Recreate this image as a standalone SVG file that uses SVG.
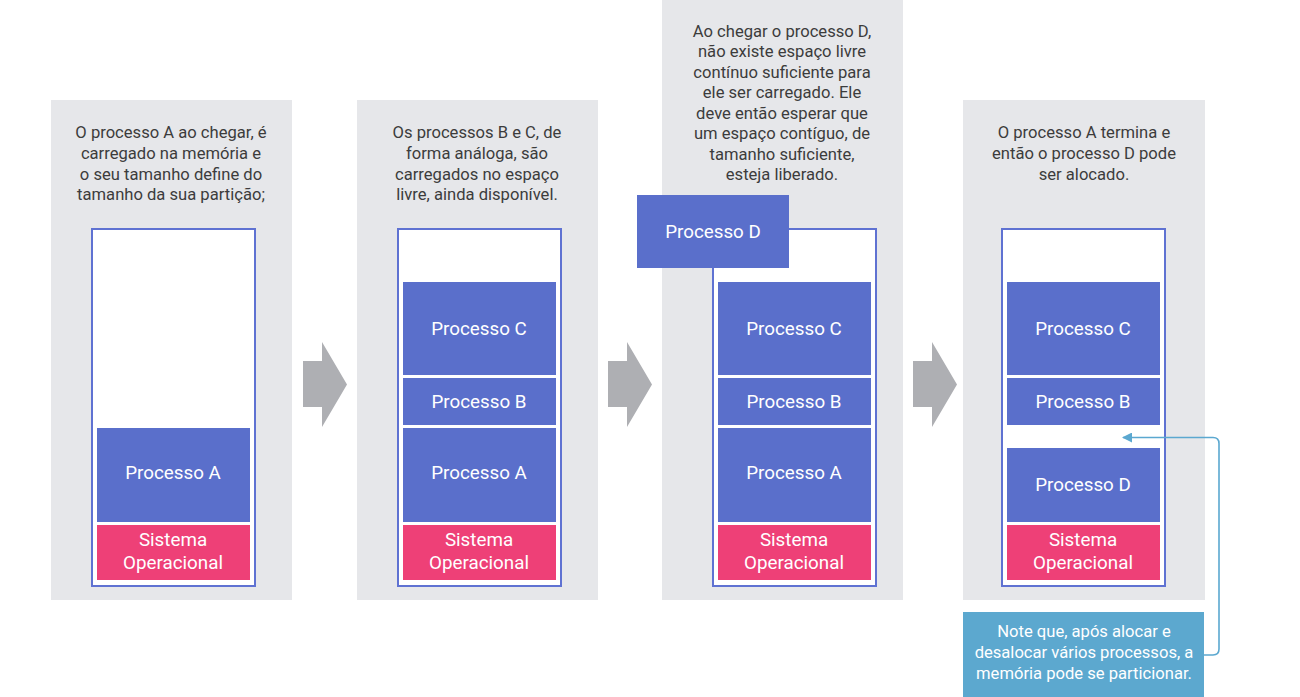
<svg xmlns="http://www.w3.org/2000/svg" width="1300" height="697" viewBox="0 0 1300 697">
<defs>
<style>
.panel{fill:#e6e7ea}
.mem{fill:#fff;stroke:#5f72d2;stroke-width:2}
.blk{fill:#5a6fcb}
.so{fill:#ee4077}
.desc{font-family:Roboto,"Liberation Sans",sans-serif;font-size:16.6px;fill:#3c3c3c;text-anchor:middle}
.lbl{font-family:Roboto,"Liberation Sans",sans-serif;font-size:18.8px;fill:#fff;text-anchor:middle}
.note{font-family:Roboto,"Liberation Sans",sans-serif;font-size:16.6px;fill:#fff;text-anchor:middle}
.chev{fill:#aeafb3}
</style>
<marker id="ah" viewBox="0 0 10 10" refX="9" refY="5" markerWidth="10" markerHeight="10" markerUnits="userSpaceOnUse" orient="auto">
<path d="M0,0 L10,5 L0,10 z" fill="#5ba8d0"/>
</marker>
</defs>

<g id="panel1">
<rect class="panel" x="51" y="100" width="241" height="500"/>
<text class="desc" x="171" y="138">O processo A ao chegar, é</text>
<text class="desc" x="171" y="159">carregado na memória e</text>
<text class="desc" x="171" y="180">o seu tamanho define do</text>
<text class="desc" x="171" y="200">tamanho da sua partição;</text>
<rect class="mem" x="92" y="229" width="163" height="357"/>
<rect class="blk" x="97" y="428" width="153" height="94"/>
<text class="lbl" x="173" y="479">Processo A</text>
<rect class="so" x="97" y="525" width="153" height="55"/>
<text class="lbl" x="173" y="546">Sistema</text>
<text class="lbl" x="173" y="569">Operacional</text>
</g>

<g id="panel2">
<rect class="panel" x="357" y="100" width="241" height="500"/>
<text class="desc" x="477" y="138">Os processos B e C, de</text>
<text class="desc" x="477" y="159">forma análoga, são</text>
<text class="desc" x="477" y="180">carregados no espaço</text>
<text class="desc" x="477" y="200">livre, ainda disponível.</text>
<rect class="mem" x="398" y="229" width="163" height="357"/>
<rect class="blk" x="403" y="282" width="153" height="93"/>
<text class="lbl" x="479" y="335">Processo C</text>
<rect class="blk" x="403" y="378" width="153" height="47"/>
<text class="lbl" x="479" y="408">Processo B</text>
<rect class="blk" x="403" y="428" width="153" height="94"/>
<text class="lbl" x="479" y="479">Processo A</text>
<rect class="so" x="403" y="525" width="153" height="55"/>
<text class="lbl" x="479" y="546">Sistema</text>
<text class="lbl" x="479" y="569">Operacional</text>
</g>

<g id="panel3">
<rect class="panel" x="662" y="0" width="241" height="600"/>
<text class="desc" x="782" y="37">Ao chegar o processo D,</text>
<text class="desc" x="782" y="57">não existe espaço livre</text>
<text class="desc" x="782" y="78">contínuo suficiente para</text>
<text class="desc" x="782" y="98">ele ser carregado. Ele</text>
<text class="desc" x="782" y="119">deve então esperar que</text>
<text class="desc" x="782" y="139">um espaço contíguo, de</text>
<text class="desc" x="782" y="160">tamanho suficiente,</text>
<text class="desc" x="782" y="180">esteja liberado.</text>
<rect class="mem" x="713" y="229" width="163" height="357"/>
<rect class="blk" x="718" y="282" width="153" height="93"/>
<text class="lbl" x="794" y="335">Processo C</text>
<rect class="blk" x="718" y="378" width="153" height="47"/>
<text class="lbl" x="794" y="408">Processo B</text>
<rect class="blk" x="718" y="428" width="153" height="94"/>
<text class="lbl" x="794" y="479">Processo A</text>
<rect class="so" x="718" y="525" width="153" height="55"/>
<text class="lbl" x="794" y="546">Sistema</text>
<text class="lbl" x="794" y="569">Operacional</text>
</g>

<g id="processoD-waiting">
<rect class="blk" x="637" y="195" width="152" height="73"/>
<text class="lbl" x="713" y="238">Processo D</text>
</g>

<g id="panel4">
<rect class="panel" x="963" y="100" width="242" height="500"/>
<text class="desc" x="1084" y="138">O processo A termina e</text>
<text class="desc" x="1084" y="159">então o processo D pode</text>
<text class="desc" x="1084" y="180">ser alocado.</text>
<rect class="mem" x="1002" y="229" width="163" height="357"/>
<rect class="blk" x="1007" y="282" width="153" height="93"/>
<text class="lbl" x="1083" y="335">Processo C</text>
<rect class="blk" x="1007" y="378" width="153" height="47"/>
<text class="lbl" x="1083" y="408">Processo B</text>
<rect class="blk" x="1007" y="448" width="153" height="74"/>
<text class="lbl" x="1083" y="491">Processo D</text>
<rect class="so" x="1007" y="525" width="153" height="55"/>
<text class="lbl" x="1083" y="546">Sistema</text>
<text class="lbl" x="1083" y="569">Operacional</text>
</g>

<g id="note">
<rect x="963" y="612" width="241" height="85" fill="#5ca8cf"/>
<text class="note" x="1084" y="637">Note que, após alocar e</text>
<text class="note" x="1084" y="658">desalocar vários processos, a</text>
<text class="note" x="1084" y="679">memória pode se particionar.</text>
</g>

<g id="connectors">
<path class="chev" d="M303,361 H322 V342 L347,384.5 L322,427 V407 H303 Z"/>
<path class="chev" d="M608,361 H627 V342 L652,384.5 L627,427 V407 H608 Z"/>
<path class="chev" d="M913,361 H932 V342 L957,384.5 L932,427 V407 H913 Z"/>
<path d="M1204,655 H1213 Q1219,655 1219,649 V443.5 Q1219,437.5 1213,437.5 H1123" fill="none" stroke="#5ba8d0" stroke-width="1.6" marker-end="url(#ah)"/>
</g>
</svg>
